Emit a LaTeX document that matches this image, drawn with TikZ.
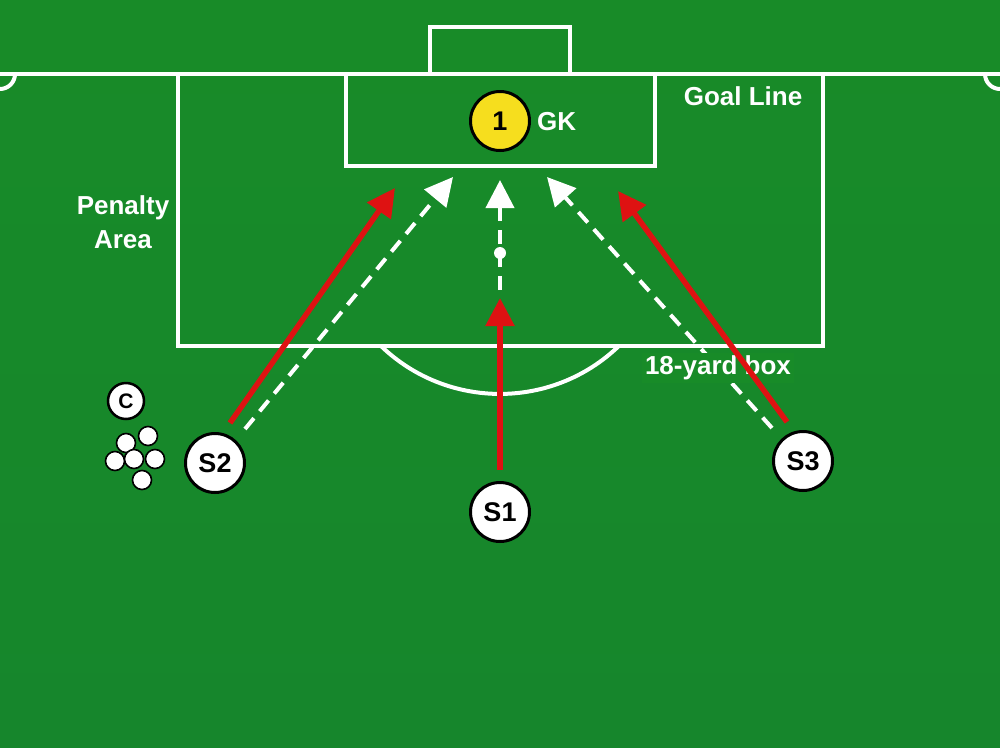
\documentclass[tikz,border=0pt]{standalone}
\usepackage{fontspec}
\setmainfont{Liberation Sans}
\usetikzlibrary{arrows.meta}
\definecolor{pitch}{RGB}{24,139,40}
\definecolor{pitchdark}{RGB}{22,134,44}
\definecolor{arrowred}{RGB}{222,18,18}
\definecolor{gkyellow}{RGB}{246,222,30}
\tikzset{
  fieldline/.style={draw=white,line width=4pt},
  lab/.style={text=white,font=\bfseries\fontsize{26}{34}\selectfont,inner sep=0pt},
  player/.style={circle,draw=black,line width=3pt,fill=white,minimum size=59pt,inner sep=0pt,font=\bfseries\fontsize{27}{30}\selectfont},
  ball/.style={circle,draw=black,line width=1.6pt,fill=white,minimum size=19pt,inner sep=0pt},
  runarrow/.style={draw=arrowred,line width=5.5pt,-{Triangle[width=28pt,length=28pt]}},
  passarrow/.style={draw=white,line width=4pt,dash pattern=on 14pt off 9pt,-{Triangle[width=28pt,length=28pt]}},
}
\begin{document}
\begin{tikzpicture}[x=1pt,y=-1pt]
\useasboundingbox (0,0) rectangle (1000,747);
\shade[top color=pitch,bottom color=pitchdark] (0,0) rectangle (1000,747);
% field lines
\draw[fieldline] (0,74) -- (1000,74);
\draw[fieldline] (430,74) -- (430,27) -- (570,27) -- (570,74);
\draw[fieldline] (178,74) -- (178,346) -- (823,346) -- (823,74);
\draw[fieldline] (346,74) -- (346,166) -- (655,166) -- (655,74);
\draw[fieldline] (15,74) arc[start angle=0,end angle=90,radius=15];
\draw[fieldline] (985,74) arc[start angle=180,end angle=90,radius=15];
\draw[fieldline] (381,346) arc[start angle=133.9,end angle=46.1,radius=171.5];
% labels
\node[lab] (goalline) at (743,96) {Goal Line};
\node[lab,align=center] (penarea) at (123,222) {Penalty\\Area};
% goalkeeper
\node[circle,draw=black,line width=3pt,fill=gkyellow,minimum size=59pt,inner sep=0pt,font=\bfseries\fontsize{27}{30}\selectfont] (gk) at (500,121) {1};
\node[lab,anchor=west] (gklab) at (537,122) {GK};
% coach and balls
\node[circle,draw=black,line width=2.5pt,fill=white,minimum size=36pt,inner sep=0pt,font=\bfseries\fontsize{21}{24}\selectfont] (coach) at (126,401) {C};
\node[ball] (b1) at (148,436) {};
\node[ball] (b2) at (126,443) {};
\node[ball] (b3) at (115,461) {};
\node[ball] (b4) at (134,459) {};
\node[ball] (b5) at (155,459) {};
\node[ball] (b6) at (142,480) {};
% players
\node[player] (s2) at (215,463) {S2};
\node[player] (s1) at (500,512) {S1};
\node[player] (s3) at (803,461) {S3};
% arrow endpoints
\coordinate (s1run) at (500,470);
\coordinate (s1runend) at (500,298);
\coordinate (s1pass) at (500,290);
\coordinate (s1passend) at (500,180);
\coordinate (spot) at (500,253);
\coordinate (s2run) at (230,423);
\coordinate (s2runend) at (395,188);
\coordinate (s2pass) at (245,429);
\coordinate (s2passend) at (453,177);
\coordinate (s3run) at (787,422);
\coordinate (s3runend) at (618,191);
\coordinate (s3pass) at (772,428);
\coordinate (s3passend) at (547,177);
% passes (white dashed)
\draw[passarrow] (s1pass) -- (s1passend);
\fill[white] (spot) circle[radius=6];
\draw[passarrow] (s2pass) -- (s2passend);
\draw[passarrow] (s3pass) -- (s3passend);
% 18-yard label over the passes
\node[lab,fill=pitch,inner sep=3pt] (box18) at (718,368) {18-yard box};
% runs (red)
\draw[runarrow] (s1run) -- (s1runend);
\draw[runarrow] (s2run) -- (s2runend);
\draw[runarrow] (s3run) -- (s3runend);
\end{tikzpicture}
\end{document}
